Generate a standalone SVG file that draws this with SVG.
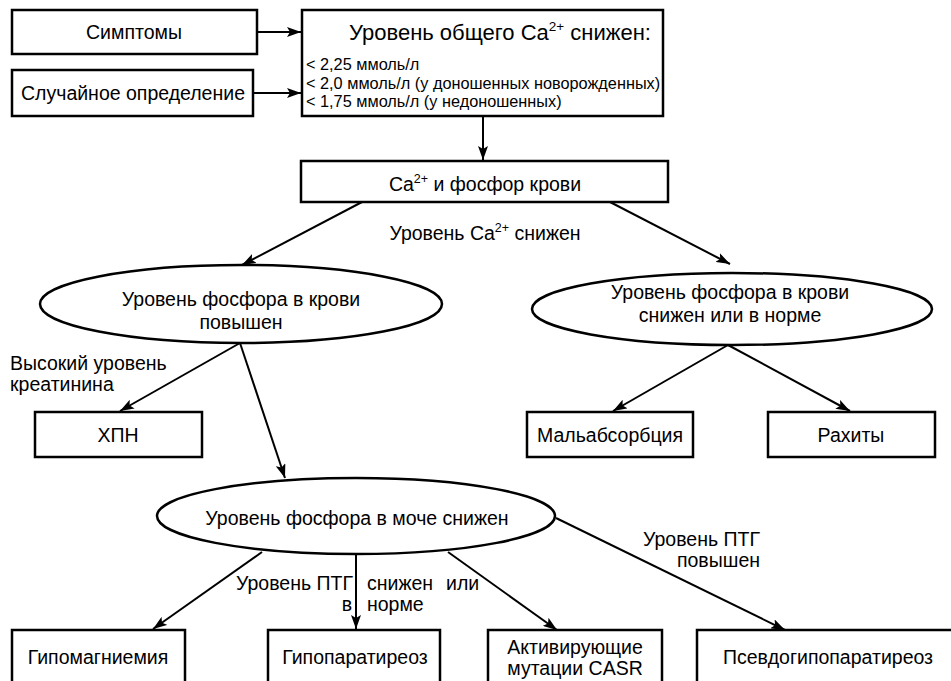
<svg xmlns="http://www.w3.org/2000/svg" width="951" height="681" viewBox="0 0 951 681">
<defs>
<marker id="ah" viewBox="0 0 14 10" refX="14" refY="5" markerWidth="14" markerHeight="10" markerUnits="userSpaceOnUse" orient="auto">
<path d="M0,0 L14,5 L0,10 L3,5 Z" fill="#000"/>
</marker>
</defs>
<style>
.box{fill:#fff;stroke:#000;stroke-width:2.5}
.t{font-family:"Liberation Sans",Arial,sans-serif;font-size:19.5px;fill:#000}
.c{text-anchor:middle}
.e{text-anchor:end}
.ti{font-size:22px}
.s{font-family:"Liberation Sans",Arial,sans-serif;font-size:16.3px;fill:#000}
.ar{stroke:#000;stroke-width:2;fill:none;marker-end:url(#ah)}
</style>
<rect width="951" height="681" fill="#fff"/>
<g id="connectors">
<line class="ar" x1="257" y1="32" x2="301" y2="32"/>
<line class="ar" x1="253" y1="93" x2="301" y2="93"/>
<line class="ar" x1="483" y1="116" x2="483" y2="160"/>
<line class="ar" x1="362" y1="202" x2="242" y2="265"/>
<line class="ar" x1="610" y1="202" x2="730" y2="264"/>
<line class="ar" x1="240" y1="343" x2="120" y2="411"/>
<line class="ar" x1="240" y1="343" x2="285" y2="478"/>
<line class="ar" x1="728" y1="345" x2="613" y2="411"/>
<line class="ar" x1="728" y1="345" x2="850" y2="411"/>
<line class="ar" x1="262" y1="552" x2="153" y2="629"/>
<line class="ar" x1="356" y1="554" x2="356" y2="629"/>
<line class="ar" x1="448" y1="552" x2="557" y2="630"/>
<line class="ar" x1="556" y1="518" x2="785" y2="630"/>
</g>
<g id="labels">
<text class="t c" x="485" y="240">Уровень Ca<tspan dy="-8" font-size="12.5">2+</tspan><tspan dy="8"> снижен</tspan></text>
<text class="t" x="10" y="370">Высокий уровень</text>
<text class="t" x="10" y="391">креатинина</text>
<text class="t e" x="353" y="590">Уровень ПТГ</text>
<text class="t" x="367" y="590">снижен</text>
<text class="t" x="446" y="590">или</text>
<text class="t e" x="352" y="611">в</text>
<text class="t" x="367" y="611">норме</text>
<text class="t e" x="760" y="546">Уровень ПТГ</text>
<text class="t e" x="760" y="567">повышен</text>
</g>
<g id="symptoms">
<rect class="box" x="12" y="10" width="245" height="44"/>
<text class="t c" x="134" y="39">Симптомы</text>
</g>
<g id="random">
<rect class="box" x="12" y="70" width="241" height="46"/>
<text class="t c" x="133" y="100">Случайное определение</text>
</g>
<g id="total-ca">
<rect class="box" x="302" y="10" width="361" height="106"/>
<text class="t c ti" x="500" y="40">Уровень общего Ca<tspan dy="-9" font-size="13.5">2+</tspan><tspan dy="9"> снижен:</tspan></text>
<text class="s" x="306" y="70">&lt; 2,25 ммоль/л</text>
<text class="s" x="306" y="89">&lt; 2,0 ммоль/л (у доношенных новорожденных)</text>
<text class="s" x="306" y="107">&lt; 1,75 ммоль/л (у недоношенных)</text>
</g>
<g id="ca-phos">
<rect class="box" x="301" y="161" width="367" height="41"/>
<text class="t c" x="485" y="191">Ca<tspan dy="-8" font-size="12.5">2+</tspan><tspan dy="8"> и фосфор крови</tspan></text>
</g>
<g id="phos-high">
<ellipse class="box" cx="241" cy="304" rx="201" ry="39"/>
<text class="t c" x="241" y="306">Уровень фосфора в крови</text>
<text class="t c" x="241" y="329">повышен</text>
</g>
<g id="phos-low">
<ellipse class="box" cx="732" cy="309" rx="200" ry="36"/>
<text class="t c" x="730" y="299">Уровень фосфора в крови</text>
<text class="t c" x="730" y="322">снижен или в норме</text>
</g>
<g id="hpn">
<rect class="box" x="35" y="412" width="167" height="45"/>
<text class="t c" x="118" y="442">ХПН</text>
</g>
<g id="malabs">
<rect class="box" x="527" y="412" width="166" height="45"/>
<text class="t c" x="610" y="442">Мальабсорбция</text>
</g>
<g id="rickets">
<rect class="box" x="768" y="412" width="167" height="45"/>
<text class="t c" x="851" y="442">Рахиты</text>
</g>
<g id="urine-phos">
<ellipse class="box" cx="356" cy="516" rx="199" ry="38"/>
<text class="t c" x="357" y="525">Уровень фосфора в моче снижен</text>
</g>
<g id="hypomag">
<rect class="box" x="12" y="630" width="173" height="65"/>
<text class="t c" x="98" y="664">Гипомагниемия</text>
</g>
<g id="hypopara">
<rect class="box" x="268" y="630" width="172" height="65"/>
<text class="t c" x="355" y="664">Гипопаратиреоз</text>
</g>
<g id="casr">
<rect class="box" x="488" y="630" width="174" height="65"/>
<text class="t c" x="575" y="654">Активирующие</text>
<text class="t c" x="575" y="675">мутации CASR</text>
</g>
<g id="pseudo">
<rect class="box" x="697" y="630" width="270" height="65"/>
<text class="t c" x="828" y="664">Псевдогипопаратиреоз</text>
</g>
</svg>
